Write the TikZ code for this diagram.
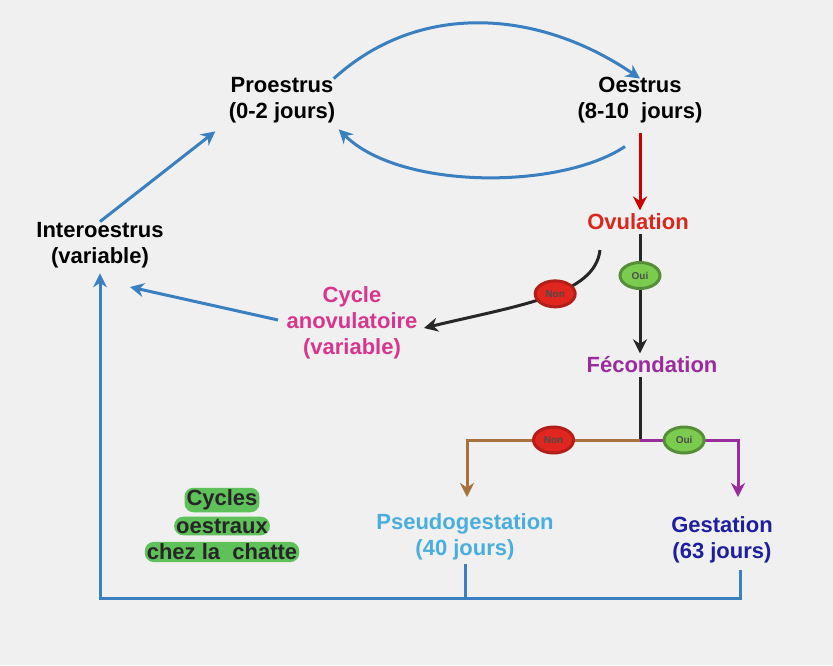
\documentclass[tikz,border=0pt]{standalone}
\usepackage{fontspec}
\setmainfont{Liberation Sans}
\usetikzlibrary{positioning,shapes.geometric,arrows.meta}
\definecolor{bg}{HTML}{F0F0F0}
\definecolor{cycleblue}{HTML}{3A7FC0}
\definecolor{ovred}{HTML}{D8281E}
\definecolor{anomag}{HTML}{D8358E}
\definecolor{fecpurple}{HTML}{9B2C9E}
\definecolor{pseudoblue}{HTML}{4AAEDD}
\definecolor{gestblue}{HTML}{1E1EA0}
\definecolor{nonred}{HTML}{E0261E}
\definecolor{ouigreen}{HTML}{7BCB4E}
\definecolor{brownline}{HTML}{A9713E}
\definecolor{glowgreen}{HTML}{5FC15A}
\tikzset{
	stage/.style = {align = center, font = \fontsize{22}{26}\selectfont\bfseries},
	badge/.style = {ellipse, inner sep = 1pt, minimum width = 40pt, minimum height = 26pt,
		font = \fontsize{10}{11}\selectfont\bfseries, text = black!70},
	non/.style = {badge, fill = nonred, draw = nonred!80!black},
	oui/.style = {badge, fill = ouigreen, draw = ouigreen!70!black},
	glow/.style = {fill = glowgreen, rounded corners = 9pt, inner sep = 2pt,
		font = \fontsize{22}{26}\selectfont\bfseries, text = black!85},
	flow/.style = {line width = 3pt, -{Stealth[length = 14pt, width = 14pt]}}
}
\begin{document}
\begin{tikzpicture}[x = 1pt, y = -1pt]

	% Background

	\fill [bg] (0, 0) rectangle (833, 665);
	\useasboundingbox (0, 0) rectangle (833, 665);

	% Stages

	\node [stage] (pro) at (282, 100) {Proestrus\\(0-2 jours)};
	\node [stage] (oes) at (640, 100) {Oestrus\\(8-10\ \ jours)};
	\node [stage, text = ovred] (ovu) at (638, 222) {Ovulation};
	\node [stage] (inter) at (100, 245) {Interoestrus\\(variable)};
	\node [stage, text = anomag] (ano) at (352, 323) {Cycle\\anovulatoire\\(variable)};
	\node [stage, text = fecpurple] (fec) at (652, 365) {Fécondation};
	\node [stage, text = pseudoblue] (pseudo) at (465, 537) {Pseudogestation\\(40 jours)};
	\node [stage, text = gestblue] (gest) at (722, 540) {Gestation\\(63 jours)};

	% Label with green glow

	\node [glow] (cyc1) at (222, 500) {Cycles};
	\node [glow] (cyc2) at (222, 526) {oestraux};
	\node [glow] (cyc3) at (222, 552) {chez la\ \ chatte};

	% Cycle arrows

	\coordinate (split) at (640, 440);
	\draw [flow, cycleblue] ([shift = {(-5pt, -5pt)}]pro.north east) .. controls (420, 0) and (540, 10) .. ([yshift = -5pt]oes.north);
	\draw [flow, cycleblue] ([shift = {(-15pt, -20pt)}]oes.south) .. controls (560, 190) and (400, 190) .. ([yshift = -3pt]pro.south east);
	\draw [flow, cycleblue] ([yshift = -3pt]inter.north) -- ([shift = {(-10pt, -5pt)}]pro.south west);
	\draw [flow, red!80!black] ([yshift = -6pt]oes.south -| split) -- (ovu.north -| split);

	% Ovulation branches

	\coordinate (ovuL) at (600, 250);
	\coordinate (interIn) at (130, 287);
	\draw [flow, black!85] (ovuL) .. controls (595, 295) and (520, 305) .. node [non, pos = 0.45] (non1) {Non} ([xshift = 3pt]ano.east |- 0, 328);
	\draw [flow, black!85] (ovu.south -| split) -- node [oui, pos = 0.35] (oui1) {Oui} (fec.north -| split);
	\draw [flow, cycleblue] ([xshift = -5pt]ano.west |- 0, 320) -- (interIn);

	% Fecondation branches

	\draw [line width = 3pt, black!85] (fec.south -| split) -- (split);
	\draw [flow, brownline] (split) -- node [non] (non2) {Non} (467, 440) -- (467, 497);
	\draw [flow, fecpurple] (split) -- node [oui, pos = 0.45] (oui2) {Oui} (738, 440) -- (738, 497);

	% Return to interoestrus

	\coordinate (back) at (100, 598);
	\draw [line width = 3pt, cycleblue] (pseudo.south) -- (pseudo.south |- back);
	\draw [flow, cycleblue] (740, 570) -- (740, 598) -- (back) -- ([yshift = -2pt]inter.south);

\end{tikzpicture}
\end{document}
